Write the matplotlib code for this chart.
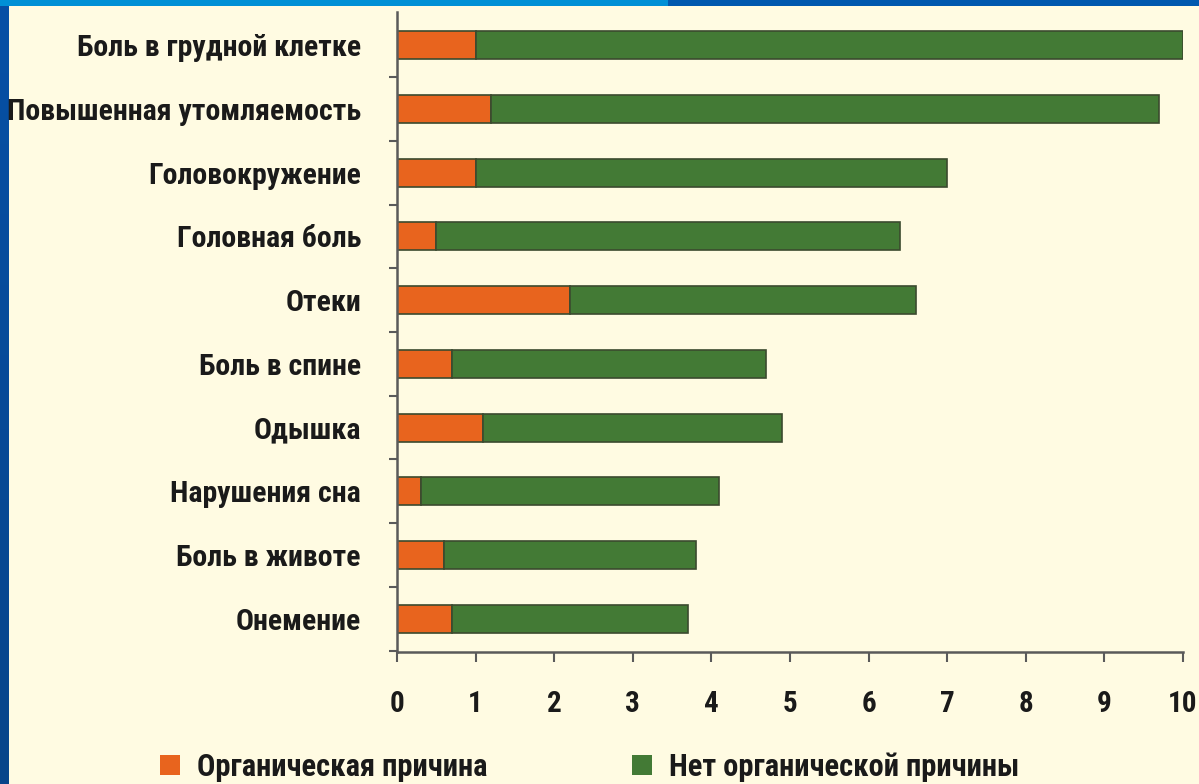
import numpy as np
import matplotlib.pyplot as plt
from matplotlib import font_manager as fm
from matplotlib.colors import LinearSegmentedColormap
from matplotlib.patches import Patch, Rectangle

symptoms = ["Боль в грудной клетке", "Повышенная утомляемость", "Головокружение",
            "Головная боль", "Отеки", "Боль в спине", "Одышка",
            "Нарушения сна", "Боль в животе", "Онемение"]
organic = [1.0, 1.2, 1.0, 0.5, 2.2, 0.7, 1.1, 0.3, 0.6, 0.7]
non_organic = [9.0, 8.5, 6.0, 5.9, 4.4, 4.0, 3.8, 3.8, 3.2, 3.0]
xticks = list(range(0, 11))
legend_labels = ["Органическая причина", "Нет органической причины"]

ORANGE = "#E8641E"
GREEN = "#437A35"
EDGE = "#3B4A2E"
CREAM = "#FFFBE2"
INK = "#1A1A1A"


def _weight(f):
    if isinstance(f.weight, int):
        return f.weight
    return fm.weight_dict.get(f.weight, 400)


def pick_narrow_bold():
    """Heaviest condensed face with Cyrillic that is installed; None if none."""
    prefs = ['Roboto Condensed', 'Liberation Sans Narrow', 'Noto Sans Condensed',
             'Open Sans Condensed', 'DejaVu Sans Condensed']
    bold = [f for f in fm.fontManager.ttflist if _weight(f) >= 600 and f.style == 'normal']
    for name in prefs:
        found = [f for f in bold if f.name == name]
        if found:
            return max(found, key=_weight).fname
    for f in bold:
        if ('Condensed' in f.name or 'Narrow' in f.name
                or f.stretch in ('condensed', 'semi-condensed', 'extra-condensed')):
            if any(k in f.name for k in ('DejaVu', 'Liberation', 'Noto Sans', 'Roboto', 'Open Sans')):
                return f.fname
    return None


narrow = pick_narrow_bold()
if narrow:
    def font(size):
        return fm.FontProperties(fname=narrow, size=size)
    LABEL_SIZE, TICK_SIZE, LEG_SIZE = 21.5, 21, 22
else:
    def font(size):
        return fm.FontProperties(family='DejaVu Sans', weight='bold', size=size)
    LABEL_SIZE, TICK_SIZE, LEG_SIZE = 14.5, 16, 15.5

fig = plt.figure(figsize=(11.99, 7.84), dpi=100)
fig.patch.set_facecolor(CREAM)

# slide frame: blue strip on top and along the left edge
W, H = 1199, 784
bg = fig.add_axes([0, 0, 1, 1], zorder=-10)
bg.axis('off')
grad = np.linspace(0, 1, 256).reshape(-1, 1)
side_cmap = LinearSegmentedColormap.from_list("side", ["#0650A6", "#08458A"])
bg.imshow(grad, cmap=side_cmap, aspect='auto', extent=[0, 9 / W, 0, 1], origin='upper')
bg.add_patch(Rectangle((0, 1 - 6 / H), 668 / W, 6 / H, color="#0090D6", lw=0))
bg.add_patch(Rectangle((668 / W, 1 - 6 / H), 1 - 668 / W, 6 / H, color="#0058AF", lw=0))
bg.set_xlim(0, 1)
bg.set_ylim(0, 1)

ax = fig.add_axes([397 / W, 1 - 652 / H, (1183 - 397) / W, (652 - 12) / H])
ax.set_facecolor('none')

y = np.arange(len(symptoms))
organic = np.array(organic)
non_organic = np.array(non_organic)
bar_h = 0.44
ax.barh(y, organic, height=bar_h, color=ORANGE, edgecolor=EDGE, linewidth=1.2)
ax.barh(y, non_organic, left=organic, height=bar_h, color=GREEN, edgecolor=EDGE, linewidth=1.2)

ax.set_xlim(0, 10)
ax.set_ylim(len(symptoms) - 0.48, -0.52)

for side in ['top', 'right']:
    ax.spines[side].set_visible(False)
for side in ['left', 'bottom']:
    ax.spines[side].set_color('#5A5A5A')
    ax.spines[side].set_linewidth(1.8)

ax.set_xticks(xticks)
ax.set_xticklabels([str(t) for t in xticks], fontproperties=font(TICK_SIZE), color=INK)
ax.tick_params(axis='x', direction='out', length=7, width=1.5, color='#5A5A5A', pad=20)

# category labels sit between the boundary ticks
ax.set_yticks(y)
ax.set_yticklabels(symptoms, fontproperties=font(LABEL_SIZE), color=INK)
ax.tick_params(axis='y', length=0, pad=26)
ax.set_yticks(np.arange(len(symptoms)) + 0.5, minor=True)
ax.tick_params(axis='y', which='minor', direction='out', length=6, width=1.5, color='#5A5A5A')

# legend entries placed one by one under the axis
handles = [Patch(facecolor=ORANGE, edgecolor='none'), Patch(facecolor=GREEN, edgecolor='none')]
for h, lab, x0 in zip(handles, legend_labels, [160, 632]):
    fig.legend([h], [lab], loc='center left', bbox_to_anchor=(x0 / W, 1 - 767 / H),
               frameon=False, prop=font(LEG_SIZE), handlelength=0.65, handleheight=0.65,
               handletextpad=0.55, borderpad=0, borderaxespad=0, labelcolor=INK)

fig.savefig("out.png", dpi=100, facecolor=fig.get_facecolor())
